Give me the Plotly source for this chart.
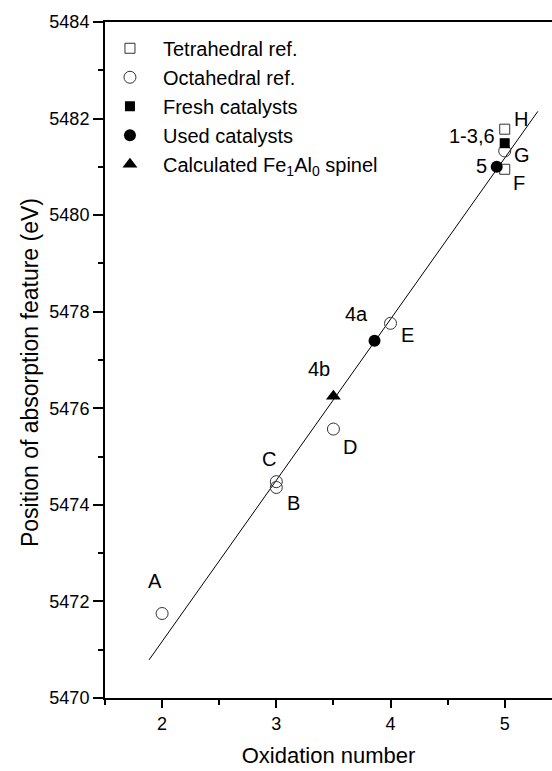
import plotly.graph_objects as go

# Reference compounds and catalysts: oxidation number vs. absorption feature position (eV)
tetra_x = [5.0, 5.0]
tetra_y = [5481.78, 5480.95]
tetra_lbl = ["H", "F"]

octa_x = [2.0, 3.0, 3.0, 3.5, 4.0, 5.0]
octa_y = [5471.75, 5474.36, 5474.48, 5475.57, 5477.76, 5481.33]
octa_lbl = ["A", "B", "C", "D", "E", "G"]

fresh_x = [5.0]
fresh_y = [5481.49]
fresh_lbl = ["1-3,6"]

used_x = [3.86, 4.93]
used_y = [5477.40, 5481.00]
used_lbl = ["4a", "5"]

calc_x = [3.5]
calc_y = [5476.25]
calc_lbl = ["4b"]

# linear fit through the references
fit_x = [1.886, 5.29]
fit_y = [5470.79, 5482.15]

FONT = "Liberation Sans, Arial, sans-serif"
EDGE = "#333333"

fig = go.Figure()

fig.add_trace(go.Scatter(x=fit_x, y=fit_y, mode="lines",
                         line=dict(color="black", width=1), showlegend=False,
                         hoverinfo="skip"))

fig.add_trace(go.Scatter(x=tetra_x, y=tetra_y, mode="markers", name="Tetrahedral ref.",
                         marker=dict(symbol="square-open", size=10, color=EDGE,
                                     line=dict(width=1, color=EDGE))))
fig.add_trace(go.Scatter(x=octa_x, y=octa_y, mode="markers", name="Octahedral ref.",
                         marker=dict(symbol="circle-open", size=12, color=EDGE,
                                     line=dict(width=1, color=EDGE))))
fig.add_trace(go.Scatter(x=fresh_x, y=fresh_y, mode="markers", name="Fresh catalysts",
                         marker=dict(symbol="square", size=10, color="black")))
fig.add_trace(go.Scatter(x=used_x, y=used_y, mode="markers", name="Used catalysts",
                         marker=dict(symbol="circle", size=12, color="black")))
fig.add_trace(go.Scatter(x=calc_x, y=calc_y, mode="markers",
                         name="Calculated Fe<sub>1</sub>Al<sub>0</sub> spinel",
                         marker=dict(symbol="triangle-up", size=13, color="black")))

# point labels: (x, y, text, xshift, yshift, xanchor)
labels = [
    (octa_x[0], octa_y[0], octa_lbl[0], -7, 33, "center"),
    (octa_x[1], octa_y[1], octa_lbl[1], 9, -16, "left"),
    (octa_x[2], octa_y[2], octa_lbl[2], -16, 23, "left"),
    (octa_x[3], octa_y[3], octa_lbl[3], 8, -18, "left"),
    (octa_x[4], octa_y[4], octa_lbl[4], 8, -12, "left"),
    (octa_x[5], octa_y[5], octa_lbl[5], 7, -4, "left"),
    (tetra_x[0], tetra_y[0], tetra_lbl[0], 7, 10, "left"),
    (tetra_x[1], tetra_y[1], tetra_lbl[1], 6, -14, "left"),
    (fresh_x[0], fresh_y[0], fresh_lbl[0], -8, 7, "right"),
    (used_x[0], used_y[0], used_lbl[0], -5, 27, "right"),
    (used_x[1], used_y[1], used_lbl[1], -8, 1, "right"),
    (calc_x[0], calc_y[0], calc_lbl[0], -1, 27, "right"),
]
for x, y, t, dx, dy, xa in labels:
    fig.add_annotation(x=x, y=y, text=t, showarrow=False, xshift=dx, yshift=dy,
                       xanchor=xa, yanchor="middle",
                       font=dict(family=FONT, size=20, color="black"))

# vertical axis title, set slightly below the plot's mid-height
fig.add_annotation(xref="paper", yref="paper", x=-0.168, y=0.482,
                   text="Position of absorption feature (eV)", textangle=-90,
                   showarrow=False, xanchor="center", yanchor="middle",
                   font=dict(family=FONT, size=23, color="black"))

fig.update_layout(
    width=552, height=771,
    margin=dict(l=105, r=0, t=22, b=73),
    paper_bgcolor="white", plot_bgcolor="white",
    font=dict(family=FONT, size=18, color="black"),
    showlegend=True,
    legend=dict(x=-0.018, y=0.99, xanchor="left", yanchor="top",
                bgcolor="rgba(0,0,0,0)", font=dict(family=FONT, size=20),
                tracegroupgap=0, itemwidth=56),
    xaxis=dict(range=[1.5, 5.414], showgrid=False, zeroline=False,
               showline=True, linecolor="black", linewidth=2, mirror=True,
               ticks="outside", ticklen=8, tickwidth=2, tickcolor="black",
               tickvals=[2, 3, 4, 5],
               minor=dict(ticks="outside", ticklen=5, tickwidth=2, tickcolor="black",
                          dtick=0.5, tick0=1.5),
               title=dict(text="Oxidation number", font=dict(size=22), standoff=15)),
    yaxis=dict(range=[5470, 5484], showgrid=False, zeroline=False,
               showline=True, linecolor="black", linewidth=2,
               ticks="outside", ticklen=10, tickwidth=2, tickcolor="black",
               tickvals=[5470, 5472, 5474, 5476, 5478, 5480, 5482, 5484],
               minor=dict(ticks="outside", ticklen=5, tickwidth=2, tickcolor="black",
                          dtick=1)),
)

fig.write_html("out.html")
